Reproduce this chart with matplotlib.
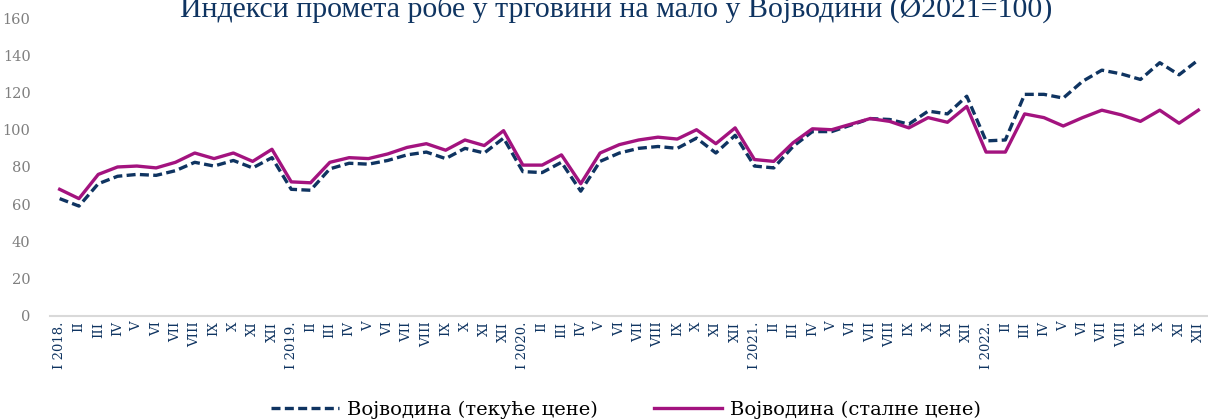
import matplotlib
matplotlib.use("Agg")
import matplotlib.pyplot as plt

# monthly indices, Jan 2018 - Dec 2022 (avg 2021 = 100)
months = ["I", "II", "III", "IV", "V", "VI", "VII", "VIII", "IX", "X", "XI", "XII"]
years = [2018, 2019, 2020, 2021, 2022]

tekuce = [63, 59, 71, 75, 76, 75.5, 78, 82.5, 80.5, 83.5, 79.5, 85,
          68, 67.5, 79, 82, 81.5, 83.5, 86.5, 88, 84.5, 90, 87.5, 95.5,
          77.5, 77, 82.5, 67, 83, 87.5, 90, 91, 90, 95.5, 87.5, 97,
          80.5, 79.5, 91, 99, 99, 102.5, 106, 105.5, 103, 110, 108.5, 118,
          94, 94.5, 119, 119, 117, 126, 132, 130, 127, 136, 129.5, 137.5]

stalne = [68, 63, 76, 80, 80.5, 79.5, 82.5, 87.5, 84.5, 87.5, 83, 89.5,
          72, 71.5, 82.5, 85, 84.5, 87, 90.5, 92.5, 89, 94.5, 91.5, 99.5,
          81, 81, 86.5, 71, 87.5, 92, 94.5, 96, 95, 100, 92.5, 101,
          84, 83, 93, 100.5, 100, 103, 106, 104.5, 101, 106.5, 104, 112.5,
          88, 88, 108.5, 106.5, 102, 106.5, 110.5, 108, 104.5, 110.5, 103.5, 110.5]

labels = []
for y in years:
    for m in months:
        labels.append(f"I {y}." if m == "I" else m)

navy = "#0f3461"
magenta = "#a3137f"
serif = ["DejaVu Serif"]

fig = plt.figure(figsize=(12.08, 4.19), dpi=100)
ax = fig.add_axes([50 / 1208, 0.246, 1 - 50 / 1208, 0.711])

x = list(range(len(labels)))
ax.plot(x, tekuce, color=navy, lw=2.4, ls=(0, (2.7, 1.3)),
        label="Војводина (текуће цене)")
ax.plot(x, stalne, color=magenta, lw=2.4, label="Војводина (сталне цене)")

ax.set_ylim(0, 160)
ax.set_yticks(range(0, 161, 20))
ax.set_xlim(-0.5, 59.5)
ax.set_xticks(x)
ax.set_xticklabels(labels, rotation=90, color=navy, fontsize=9.5, family=serif)
for t in ax.get_yticklabels():
    t.set_family(serif)
    t.set_color("#7f7f7f")
    t.set_fontsize(10.5)
ax.tick_params(length=0, pad=4)
ax.tick_params(axis="y", pad=14)

for s in ["top", "right", "left"]:
    ax.spines[s].set_visible(False)
ax.spines["bottom"].set_color("#d9d9d9")
ax.spines["bottom"].set_linewidth(1.5)

fig.text(0.51, (419 - 17) / 419, "Индекси промета робе у трговини на мало у Војводини (Ø2021=100)",
         ha="center", va="baseline", fontsize=21.5, color=navy, family=["Liberation Serif"])

leg = fig.legend(loc="center", bbox_to_anchor=(0.518, 0.0215), ncol=2, frameon=False,
                 handlelength=3.5, handletextpad=0.4, columnspacing=2.9,
                 prop={"family": serif, "size": 14})

fig.savefig("out.png", dpi=100)
